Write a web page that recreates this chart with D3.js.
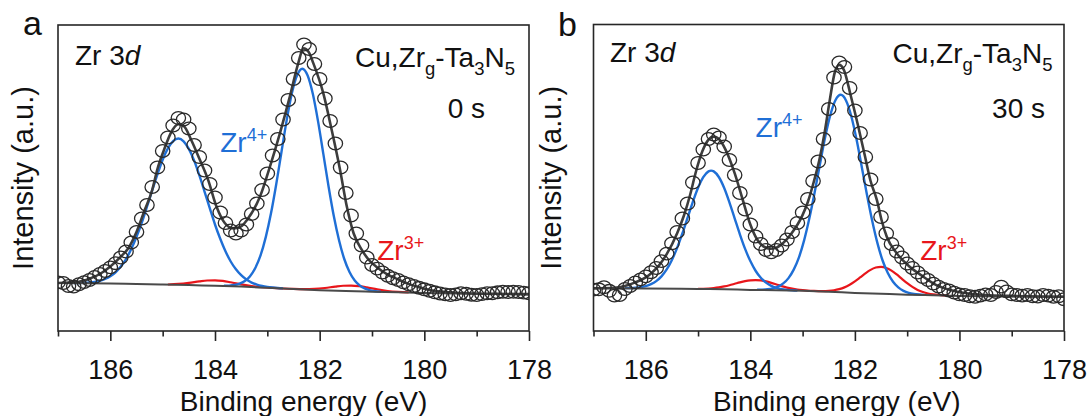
<!DOCTYPE html>
<html>
<head>
<meta charset="utf-8">
<script src="https://cdn.jsdelivr.net/npm/d3@7"></script>
<style>
  html, body { margin: 0; padding: 0; background: #fff; }
  svg { display: block; font-family: "Liberation Sans", Arial, Helvetica, sans-serif; }
</style>
</head>
<body>
<svg id="chart" width="1091" height="416"></svg>
<script>
// Binding-energy grid of the measured Zr 3d spectra (eV)
const energies = [
  187.0,186.9,186.8,186.7,186.6,186.5,186.4,186.3,186.2,186.1,
  186.0,185.9,185.8,185.7,185.6,185.5,185.4,185.3,185.2,185.1,
  185.0,184.9,184.8,184.7,184.6,184.5,184.4,184.3,184.2,184.1,
  184.0,183.9,183.8,183.7,183.6,183.5,183.4,183.3,183.2,183.1,
  183.0,182.9,182.8,182.7,182.6,182.5,182.4,182.3,182.2,182.1,
  182.0,181.9,181.8,181.7,181.6,181.5,181.4,181.3,181.2,181.1,
  181.0,180.9,180.8,180.7,180.6,180.5,180.4,180.3,180.2,180.1,
  180.0,179.9,179.8,179.7,179.6,179.5,179.4,179.3,179.2,179.1,
  179.0,178.9,178.8,178.7,178.6,178.5,178.4,178.3,178.2,178.1,
  178.0
];

// Measured intensity, 0 s etching (a.u.)
const countsA = [
  16.2,16.0,15.0,14.8,15.6,16.3,17.0,18.0,19.0,20.0,
  21.2,22.6,24.5,26.5,29.5,33.0,37.5,42.0,48.0,54.5,
  60.0,64.5,68.5,71.0,70.5,67.5,62.0,58.0,53.5,49.0,
  44.5,39.5,36.0,33.5,32.5,33.5,35.5,39.0,42.5,47.0,
  52.5,58.5,64.0,70.5,77.0,84.0,91.0,95.5,94.0,89.0,
  84.0,77.5,70.0,62.5,54.5,46.0,38.5,32.5,28.5,24.5,
  22.0,20.8,19.5,18.4,17.6,17.0,16.2,15.6,15.0,14.4,
  13.9,13.4,12.9,12.5,12.2,12.0,12.2,12.6,12.4,12.1,
  12.0,12.3,12.6,12.6,12.9,13.1,13.0,13.1,13.0,12.8,
  12.6
];

// Measured intensity, 30 s etching (a.u.)
const countsB = [
  13.8,13.9,14.6,13.4,11.8,12.0,14.0,15.0,16.2,17.2,
  18.2,19.6,21.0,23.3,25.8,29.2,33.0,37.5,42.5,49.5,
  56.0,60.5,64.0,65.5,64.5,61.5,57.0,52.0,46.0,40.5,
  35.5,31.5,29.0,27.0,26.2,27.0,28.5,30.5,33.0,36.0,
  39.5,44.0,50.0,56.5,64.0,74.0,84.5,89.5,88.0,81.0,
  73.5,66.0,58.0,50.5,44.0,38.0,32.5,29.0,26.5,24.5,
  22.5,21.0,19.5,18.0,17.0,15.8,14.8,14.0,13.5,12.8,
  12.2,12.0,11.6,11.4,11.8,12.2,12.0,13.0,14.8,13.2,
  12.2,12.0,11.8,12.0,11.6,11.5,12.0,11.8,11.4,11.6,
  10.6
];

// Shirley backgrounds [eV, intensity]
const backgroundA = [
  [187.0,16.0],[186.5,15.9],[186.0,15.8],[185.5,15.7],[185.0,15.5],[184.5,15.3],
  [184.0,15.1],[183.5,14.8],[183.0,14.4],[182.5,14.0],[182.0,13.6],[181.5,13.3],
  [181.0,13.1],[180.5,12.9],[180.0,12.7],[179.0,12.45],[178.0,12.2]
];
const backgroundB = [
  [187.0,14.3],[186.0,14.2],[185.0,14.0],[184.5,13.9],[184.0,13.7],[183.5,13.6],
  [183.0,13.4],[182.5,13.1],[182.0,12.7],[181.5,12.4],[181.0,12.1],[180.5,11.9],
  [180.0,11.7],[179.0,11.5],[178.0,11.4]
];

// Fitted envelopes [eV, intensity]
const envelopeA = [
  [187.0,16.0],[186.6,16.4],[186.4,17.4],[186.2,19.0],[186.0,21.5],[185.8,24.8],
  [185.66,27.5],[185.5,33.0],[185.35,40.0],[185.2,47.0],[185.1,54.0],[184.95,61.5],
  [184.85,65.8],[184.7,68.9],[184.6,68.4],[184.45,63.5],[184.3,57.5],[184.13,50.3],
  [183.97,41.4],[183.81,35.9],[183.65,34.2],[183.5,34.9],[183.39,37.0],[183.14,44.8],
  [182.95,54.8],[182.76,65.9],[182.57,78.1],[182.41,89.2],[182.31,94.2],[182.21,93.0],
  [182.12,89.2],[181.93,79.2],[181.77,67.0],[181.61,53.7],[181.48,41.4],[181.35,32.5],
  [181.2,27.2],[181.05,23.5],[180.9,21.2],[180.7,18.8],[180.5,17.2],[180.3,15.7],
  [180.1,14.6],[179.9,13.7],[179.6,13.0],[179.2,12.6],[178.6,12.4],[178.0,12.3]
];
const envelopeB = [
  [187.0,14.2],[186.6,14.4],[186.4,15.0],[186.2,16.2],[186.0,17.9],[185.9,19.2],
  [185.75,21.8],[185.6,25.6],[185.4,32.6],[185.27,38.5],[185.15,45.5],[185.05,52.5],
  [184.92,59.8],[184.8,63.8],[184.7,64.8],[184.6,64.0],[184.47,60.3],[184.3,52.6],
  [184.15,44.0],[184.0,35.5],[183.87,30.5],[183.75,28.2],[183.62,27.4],[183.5,27.8],
  [183.41,28.8],[183.21,32.6],[183.01,38.3],[182.9,43.0],[182.79,49.5],[182.68,57.0],
  [182.58,66.0],[182.48,77.0],[182.38,86.5],[182.3,88.7],[182.21,87.0],[182.08,78.5],
  [181.94,68.5],[181.81,58.5],[181.7,50.0],[181.58,43.7],[181.49,37.0],[181.39,31.4],
  [181.2,25.9],[180.95,21.4],[180.69,18.1],[180.44,15.3],[180.18,13.7],[179.86,12.6],
  [179.5,12.0],[179.0,11.7],[178.5,11.5],[178.0,11.4]
];

// Zr4+ 3d3/2 components [eV, intensity]
const zr4d32A = [
  [186.7,15.98],[186.6,16.0],[186.5,16.06],[186.4,16.17],[186.3,16.38],[186.2,16.74],
  [186.1,17.33],[186.0,18.23],[185.9,19.57],[185.8,21.47],[185.7,23.99],[185.6,27.32],
  [185.5,31.4],[185.4,36.06],[185.3,41.42],[185.2,46.88],[185.1,52.24],[185.0,57.1],
  [184.9,60.86],[184.8,63.32],[184.7,64.18],[184.6,63.24],[184.5,60.7],[184.4,56.86],
  [184.3,51.92],[184.2,46.48],[184.1,40.94],[184.0,35.5],[183.9,30.74],[183.8,26.58],
  [183.7,23.17],[183.6,20.57],[183.5,18.59],[183.4,17.15],[183.3,16.15],[183.2,15.46],
  [183.1,15.0],[183.0,14.69],[182.9,14.48],[182.8,14.32],[182.7,14.2]
];
const zr4d32B = [
  [186.4,14.28],[186.3,14.32],[186.2,14.42],[186.1,14.61],[186.0,14.98],[185.9,15.6],
  [185.8,16.63],[185.7,18.21],[185.6,20.52],[185.5,23.7],[185.4,27.71],[185.3,32.51],
  [185.2,37.78],[185.1,43.05],[185.0,47.77],[184.9,51.31],[184.8,53.22],[184.75,53.45],
  [184.7,53.2],[184.6,51.25],[184.5,47.67],[184.4,42.89],[184.3,37.56],[184.2,32.23],
  [184.1,27.37],[184.0,23.3],[183.9,20.08],[183.8,17.73],[183.7,16.11],[183.6,15.04],
  [183.5,14.38],[183.4,13.96],[183.3,13.72],[183.2,13.57],[183.1,13.48]
];

// Zr4+ 3d5/2 components [eV, intensity]
const zr4d52A = [
  [183.83,15.06],[183.73,15.12],[183.63,15.32],[183.53,15.76],[183.43,16.65],[183.33,18.28],
  [183.23,20.99],[183.13,25.18],[183.03,31.3],[182.93,39.22],[182.83,48.94],[182.73,59.66],
  [182.63,70.28],[182.53,79.3],[182.43,85.32],[182.33,87.44],[182.23,85.16],[182.13,78.98],
  [182.03,69.8],[181.93,59.04],[181.83,48.18],[181.73,38.32],[181.63,30.26],[181.53,24.0],
  [181.43,19.69],[181.33,16.86],[181.23,15.11],[181.13,14.1],[181.03,13.56],[180.93,13.26],
  [180.83,13.1]
];
const zr4d52B = [
  [183.87,13.73],[183.77,13.79],[183.67,13.93],[183.57,14.23],[183.47,14.82],[183.37,15.86],
  [183.27,17.63],[183.17,20.45],[183.07,24.54],[182.97,30.3],[182.87,37.64],[182.77,46.18],
  [182.67,55.42],[182.57,64.46],[182.47,72.0],[182.37,77.02],[182.27,78.74],[182.17,76.86],
  [182.07,71.68],[181.97,64.0],[181.87,54.84],[181.77,45.48],[181.67,36.82],[181.57,29.36],
  [181.47,23.5],[181.37,19.31],[181.27,16.39],[181.17,14.52],[181.07,13.38],[180.97,12.71],
  [180.87,12.35],[180.77,12.15],[180.67,12.03]
];

// Zr3+ doublet components [eV, intensity]
const zr3A = [
  [184.9,15.5],[184.7,15.7],[184.5,16.06],[184.3,16.54],[184.15,16.83],[184.0,16.9],
  [183.85,16.68],[183.7,16.24],[183.5,15.56],[183.3,14.98],[183.1,14.59],[182.9,14.35],
  [182.7,14.17],[182.5,14.03],[182.3,13.96],[182.1,14.03],[181.9,14.33],[181.7,14.82],
  [181.55,15.09],[181.4,15.14],[181.25,14.96],[181.1,14.54],[180.9,13.87],[180.7,13.33],
  [180.5,13.02],[180.3,12.85]
];
const zr3B = [
  [185.0,14.05],[184.9,14.09],[184.8,14.17],[184.7,14.31],[184.6,14.54],[184.5,14.86],
  [184.4,15.26],[184.3,15.73],[184.2,16.21],[184.1,16.62],[184.0,16.89],[183.9,16.98],
  [183.8,16.85],[183.7,16.52],[183.6,16.05],[183.5,15.51],[183.4,14.96],[183.3,14.48],
  [183.2,14.1],[183.1,13.81],[183.0,13.61],[182.9,13.46],[182.8,13.36],[182.7,13.3],
  [182.6,13.3],[182.5,13.39],[182.4,13.58],[182.3,13.95],[182.2,14.54],[182.1,15.41],
  [182.0,16.53],[181.9,17.84],[181.8,19.2],[181.7,20.37],[181.6,21.15],[181.5,21.4],
  [181.4,21.03],[181.3,20.13],[181.2,18.84],[181.1,17.36],[181.0,15.93],[180.9,14.69],
  [180.8,13.7],[180.7,12.99],[180.6,12.5],[180.5,12.19],[180.4,12.0],[180.3,11.88],
  [180.2,11.81]
];

// Axis ticks (eV)
const majorTicks = [186, 184, 182, 180, 178];
const minorTicks = [187, 185, 183, 181, 179];
const energyDomain = [187, 178];
const intensityDomain = [0, 102];

// Label anchor positions in data units [eV, intensity]
const zr4LabelAt = { a: [183.9, 59.7], b: [183.9, 64.7] };
const zr3LabelAt = { a: [180.9, 23.7], b: [180.75, 23.7] };

const COLORS = { frame: "#262626", data: "#2a2a2a", envelope: "#3d3d3d", background: "#4a4a4a",
                 zr4: "#1f6fd6", zr3: "#e8161b" };

const svg = d3.select("#chart");

const panels = [
  { key: "a", time: "0 s", counts: countsA, background: backgroundA, envelope: envelopeA,
    zr4: [zr4d32A, zr4d52A], zr3: zr3A,
    box: { left: 58, right: 529, top: 25, bottom: 331 },
    letter: [23, 35], title: [75, 65], sample: [515, 66.7], timePos: [485, 118],
    yLabelX: 32.5, xTitleY: 411, tickLabelY: 379, xTitleShift: 10 },
  { key: "b", time: "30 s", counts: countsB, background: backgroundB, envelope: envelopeB,
    zr4: [zr4d32B, zr4d52B], zr3: zr3B,
    box: { left: 593.5, right: 1064, top: 24.5, bottom: 331 },
    letter: [558, 36], title: [610, 62], sample: [1052.5, 63], timePos: [1045, 118],
    yLabelX: 561, xTitleY: 411, tickLabelY: 379, xTitleShift: 8 }
];

// Writes text made of normal / subscript / superscript runs into a <text> element
function richText(textSel, parts, smallSize, subShift, supShift) {
  let offset = 0;
  parts.forEach(p => {
    const target = p.sub ? subShift : (p.sup ? -supShift : 0);
    const ts = textSel.append("tspan").text(p.t).attr("dy", target - offset);
    if (p.sub || p.sup) ts.attr("font-size", smallSize);
    if (p.italic) ts.attr("font-style", "italic");
    offset = target;
  });
}

panels.forEach(p => {
  const { left, right, top, bottom } = p.box;
  const x = d3.scaleLinear().domain(energyDomain).range([left, right]);
  const y = d3.scaleLinear().domain(intensityDomain).range([bottom, bottom - 306]);
  const g = svg.append("g").attr("class", "panel-" + p.key);

  const clipId = "clip-" + p.key;
  svg.append("defs").append("clipPath").attr("id", clipId)
    .append("rect").attr("x", left).attr("y", top).attr("width", right - left).attr("height", bottom - top);

  const plot = g.append("g").attr("clip-path", `url(#${clipId})`);
  const line = d3.line().x(d => x(d[0])).y(d => y(d[1])).curve(d3.curveMonotoneX);

  // fitted components
  plot.append("path").datum(p.zr3).attr("d", line)
    .attr("fill", "none").attr("stroke", COLORS.zr3).attr("stroke-width", 2.2);
  p.zr4.forEach(comp => {
    plot.append("path").datum(comp).attr("d", line)
      .attr("fill", "none").attr("stroke", COLORS.zr4).attr("stroke-width", 2.4);
  });
  plot.append("path").datum(p.background).attr("d", line)
    .attr("fill", "none").attr("stroke", COLORS.background).attr("stroke-width", 2);
  plot.append("path").datum(p.envelope).attr("d", line)
    .attr("fill", "none").attr("stroke", COLORS.envelope).attr("stroke-width", 2.6);

  // measured points
  const pts = energies.map((e, i) => [e, p.counts[i]]);
  plot.selectAll("ellipse.pt").data(pts).join("ellipse").attr("class", "pt")
    .attr("cx", d => x(d[0])).attr("cy", d => y(d[1]))
    .attr("rx", 7.2).attr("ry", 6.3)
    .attr("fill", "none").attr("stroke", COLORS.data).attr("stroke-width", 1.3);

  // frame
  g.append("rect").attr("x", left).attr("y", top).attr("width", right - left).attr("height", bottom - top)
    .attr("fill", "none").attr("stroke", COLORS.frame).attr("stroke-width", 1.6);

  // x axis: major + minor ticks
  const axMajor = g.append("g").attr("transform", `translate(0,${bottom})`)
    .call(d3.axisBottom(x).tickValues(majorTicks).tickSize(10).tickFormat(d3.format("d")));
  const axMinor = g.append("g").attr("transform", `translate(0,${bottom})`)
    .call(d3.axisBottom(x).tickValues(minorTicks).tickSize(5.5).tickFormat(""));
  [axMajor, axMinor].forEach(ax => {
    ax.select(".domain").remove();
    ax.selectAll(".tick line").attr("stroke", COLORS.frame).attr("stroke-width", 1.6);
  });
  axMajor.selectAll(".tick text")
    .attr("y", p.tickLabelY - bottom).attr("dy", 0)
    .attr("fill", "#111").attr("font-size", 27)
    .attr("font-family", "\"Liberation Sans\", Arial, sans-serif");

  // axis titles
  g.append("text").attr("x", (left + right) / 2 + p.xTitleShift).attr("y", p.xTitleY)
    .attr("text-anchor", "middle").attr("font-size", 28).attr("fill", "#111")
    .text("Binding energy (eV)");
  g.append("text")
    .attr("transform", `translate(${p.yLabelX},${(top + bottom) / 2}) rotate(-90)`)
    .attr("text-anchor", "middle").attr("font-size", 29).attr("fill", "#111")
    .text("Intensity (a.u.)");

  // panel letter
  g.append("text").attr("x", p.letter[0]).attr("y", p.letter[1])
    .attr("font-size", 34).attr("fill", "#111").text(p.key);

  // core level
  const t1 = g.append("text").attr("x", p.title[0]).attr("y", p.title[1])
    .attr("font-size", 28).attr("fill", "#111");
  richText(t1, [{ t: "Zr 3" }, { t: "d", italic: true }], 18, 8, 10);

  // sample name
  const t2 = g.append("text").attr("x", p.sample[0]).attr("y", p.sample[1])
    .attr("text-anchor", "end").attr("font-size", 28).attr("fill", "#111");
  richText(t2, [{ t: "Cu,Zr" }, { t: "g", sub: true }, { t: "-Ta" }, { t: "3", sub: true },
                { t: "N" }, { t: "5", sub: true }], 18.5, 8, 10);

  // etching time
  g.append("text").attr("x", p.timePos[0]).attr("y", p.timePos[1])
    .attr("text-anchor", "end").attr("font-size", 28).attr("fill", "#111").text(p.time);

  // component labels
  const l4 = zr4LabelAt[p.key], l3 = zr3LabelAt[p.key];
  const t3 = g.append("text").attr("x", x(l4[0])).attr("y", y(l4[1]))
    .attr("font-size", 28).attr("fill", COLORS.zr4);
  richText(t3, [{ t: "Zr" }, { t: "4+", sup: true }], 18, 8, 11);
  const t4 = g.append("text").attr("x", x(l3[0])).attr("y", y(l3[1]))
    .attr("font-size", 28).attr("fill", COLORS.zr3);
  richText(t4, [{ t: "Zr" }, { t: "3+", sup: true }], 18, 8, 11);
});
</script>
</body>
</html>
